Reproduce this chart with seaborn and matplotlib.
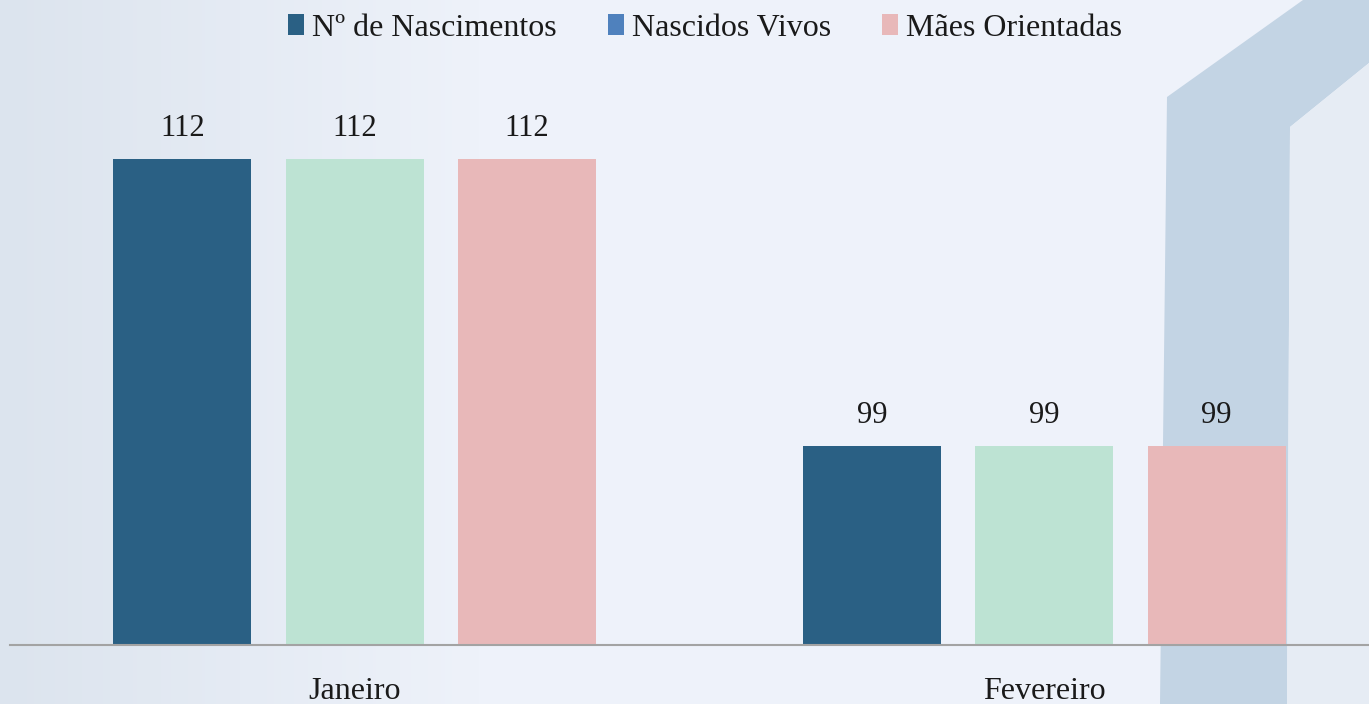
import matplotlib
matplotlib.use("Agg")
import numpy as np
import pandas as pd
import matplotlib.pyplot as plt
import seaborn as sns
from matplotlib.patches import Patch, Polygon

# Data
months = ["Janeiro", "Fevereiro"]
series = ["Nº de Nascimentos", "Nascidos Vivos", "Mães Orientadas"]
nascimentos = [112, 99]
nascidos_vivos = [112, 99]
maes_orientadas = [112, 99]

bar_colors = ["#2A6084", "#BDE3D3", "#E8B8B9"]
legend_colors = ["#2A6084", "#4F81BD", "#E8B8B9"]

df = pd.DataFrame({
    "mes": months * 3,
    "serie": [s for s in series for _ in months],
    "valor": nascimentos + nascidos_vivos + maes_orientadas,
})

sns.set_theme(style="white")
plt.rcParams["font.family"] = ["Liberation Serif", "DejaVu Serif"]

W, H = 1369, 704
fig = plt.figure(figsize=(W / 100, H / 100), dpi=100)
fig.patch.set_facecolor("#EDF1F9")

# Background: soft gradient plus the decorative band on the right
bg = fig.add_axes([0, 0, 1, 1], zorder=0)
gx = np.linspace(0, 1, 400)
t = np.clip(gx / 0.35, 0, 1)[None, :, None]
c0 = np.array([0xDC, 0xE4, 0xEE]) / 255
c1 = np.array([0xEE, 0xF2, 0xFA]) / 255
img = np.repeat(c0 * (1 - t) + c1 * t, 50, axis=0)
bg.imshow(img, extent=[0, W, H, 0], aspect="auto")
band = [(1160, 704), (1167, 97), (1303, 0), (1369, 0), (1369, 63), (1290, 127), (1287, 704)]
bg.add_patch(Polygon(band, closed=True, facecolor="#C3D4E4", edgecolor="none"))
bg.add_patch(Polygon([(1290, 127), (1369, 63), (1369, 704), (1287, 704)], closed=True,
                     facecolor="#E6ECF4", edgecolor="none"))
bg.set_xlim(0, W)
bg.set_ylim(H, 0)
bg.axis("off")

# Main chart
ax = fig.add_axes([10 / W, 59 / H, 1 - 10 / W, 574 / H], zorder=1)
ax.patch.set_alpha(0)
sns.barplot(data=df, x="mes", y="valor", hue="serie", palette=bar_colors,
            width=0.75, gap=0.2, saturation=1, linewidth=0, legend=False, ax=ax)

ax.set_ylim(90, 116)
ax.set_xlim(-0.5, 1.471)
ax.set_yticks([])
ax.set_xlabel("")
ax.set_ylabel("")
for side in ["top", "right", "left"]:
    ax.spines[side].set_visible(False)
ax.spines["bottom"].set_color("#A3A3A3")
ax.spines["bottom"].set_linewidth(1.5)
ax.tick_params(axis="x", length=0, pad=23, labelsize=23, labelcolor="#1A1A1A")

for c in ax.containers:
    ax.bar_label(c, fontsize=22, padding=12, color="#1A1A1A")

handles = [Patch(facecolor=c, edgecolor="none") for c in legend_colors]
fig.legend(handles, series, loc="center", bbox_to_anchor=(0.515, 0.96), ncol=3,
           frameon=False, fontsize=23, handlelength=0.5, handleheight=0.65,
           handletextpad=0.25, columnspacing=1.6, labelcolor="#1A1A1A")

fig.savefig("out.png", dpi=100, facecolor=fig.get_facecolor())
